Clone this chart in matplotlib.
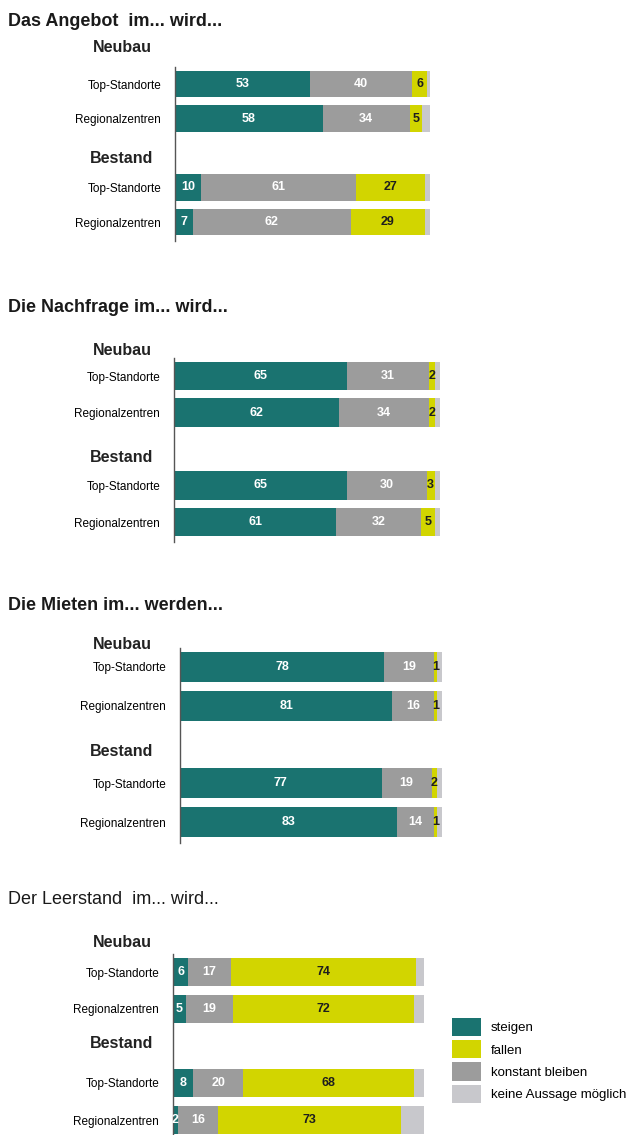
import matplotlib
matplotlib.use("Agg")
import matplotlib.pyplot as plt
import matplotlib.transforms as mtransforms
from matplotlib.patches import Patch

plt.rcParams['font.family'] = ['Liberation Sans', 'DejaVu Sans']

# =========================
# DATA (shares in %)
# =========================
titles = ["Das Angebot  im... wird...", "Die Nachfrage im... wird...",
          "Die Mieten im... werden...", "Der Leerstand  im... wird..."]
row_labels = ["Top-Standorte", "Regionalzentren", "Top-Standorte", "Regionalzentren"]
series_names = ["steigen", "fallen", "konstant bleiben", "keine Aussage möglich"]

# rows: Neubau Top, Neubau Regional, Bestand Top, Bestand Regional
angebot_steigen = [53, 58, 10, 7]
angebot_konstant = [40, 34, 61, 62]
angebot_fallen = [6, 5, 27, 29]
angebot_keine = [1, 3, 2, 2]

nachfrage_steigen = [65, 62, 65, 61]
nachfrage_konstant = [31, 34, 30, 32]
nachfrage_fallen = [2, 2, 3, 5]
nachfrage_keine = [2, 2, 2, 2]

mieten_steigen = [78, 81, 77, 83]
mieten_konstant = [19, 16, 19, 14]
mieten_fallen = [1, 1, 2, 1]
mieten_keine = [2, 2, 2, 2]

leerstand_steigen = [6, 5, 8, 2]
leerstand_konstant = [17, 19, 20, 16]
leerstand_fallen = [74, 72, 68, 73]
leerstand_keine = [3, 4, 4, 9]

panels_data = [
    (angebot_steigen, angebot_konstant, angebot_fallen, angebot_keine),
    (nachfrage_steigen, nachfrage_konstant, nachfrage_fallen, nachfrage_keine),
    (mieten_steigen, mieten_konstant, mieten_fallen, mieten_keine),
    (leerstand_steigen, leerstand_konstant, leerstand_fallen, leerstand_keine),
]

# =========================
# STYLE / LAYOUT
# =========================
C_STEIGEN = "#1a7370"
C_FALLEN = "#d2d500"
C_KONSTANT = "#9c9c9c"
C_KEINE = "#c8c8cc"

W, H = 638, 1135
rows_y = [0, 1, 3, 4]

# title_y, axis_x, end_x, first bar centre, row pitch, Neubau y, Bestand y
layout = [
    (22, 175, 430, 84, 34.5, -1.07, 2.15),
    (308, 174, 440, 376, 36.5, -0.71, 2.22),
    (605, 180, 442, 667, 38.75, -0.57, 2.19),
    (900, 173, 424, 972, 37.0, -0.81, 1.92),
]

fig = plt.figure(figsize=(W / 100, H / 100), dpi=100)

for i, (vals, lay) in enumerate(zip(panels_data, layout)):
    title_y, ax_x, end_x, y0, pitch, y_neu, y_best = lay
    steigen, konstant, fallen, keine = vals

    top_px = y0 - 0.5 * pitch
    bot_px = y0 + 4.55 * pitch
    ax = fig.add_axes([ax_x / W, 1 - bot_px / H, (end_x - ax_x) / W, (bot_px - top_px) / H])

    segs = [(steigen, C_STEIGEN, "white"), (konstant, C_KONSTANT, "white"),
            (fallen, C_FALLEN, "#1e1e1e"), (keine, C_KEINE, None)]
    left = [0] * 4
    for seg, color, tcolor in segs:
        bars = ax.barh(rows_y, seg, left=left, height=0.78, color=color, edgecolor="none")
        if tcolor is not None:
            ax.bar_label(bars, labels=[str(v) for v in seg], label_type="center",
                         color=tcolor, fontsize=9, fontweight="bold")
        left = [l + v for l, v in zip(left, seg)]

    ax.set_xlim(0, 100)
    ax.set_ylim(4.55, -0.5)
    for side in ["top", "right", "bottom"]:
        ax.spines[side].set_visible(False)
    ax.spines["left"].set_color("#555555")
    ax.spines["left"].set_linewidth(1.0)
    ax.set_xticks([])
    ax.set_yticks(rows_y)
    ax.set_yticklabels(row_labels, fontsize=8.5)
    ax.tick_params(axis="y", length=0, pad=10)

    # group headers
    trans = mtransforms.blended_transform_factory(fig.transFigure, ax.transData)
    ax.text(122 / W, y_neu, "Neubau", transform=trans, ha="center", va="center",
            fontsize=11.5, fontweight="bold", color="#222222")
    ax.text(122 / W, y_best, "Bestand", transform=trans, ha="center", va="center",
            fontsize=11.5, fontweight="bold", color="#222222")

    fig.text(8 / W, 1 - title_y / H, titles[i], ha="left", va="center",
             fontsize=13, fontweight="bold" if i < 3 else "normal", color="#1a1a1a")

handles = [Patch(facecolor=c, edgecolor="none") for c in [C_STEIGEN, C_FALLEN, C_KONSTANT, C_KEINE]]
fig.legend(handles, series_names, loc="upper left",
           bbox_to_anchor=(452 / W, 1 - 1018 / H), frameon=False, fontsize=9.5,
           handlelength=2.2, handleheight=1.75, labelspacing=0.3, handletextpad=0.75,
           borderpad=0, borderaxespad=0)

fig.savefig("out.png", dpi=100, facecolor="white")
